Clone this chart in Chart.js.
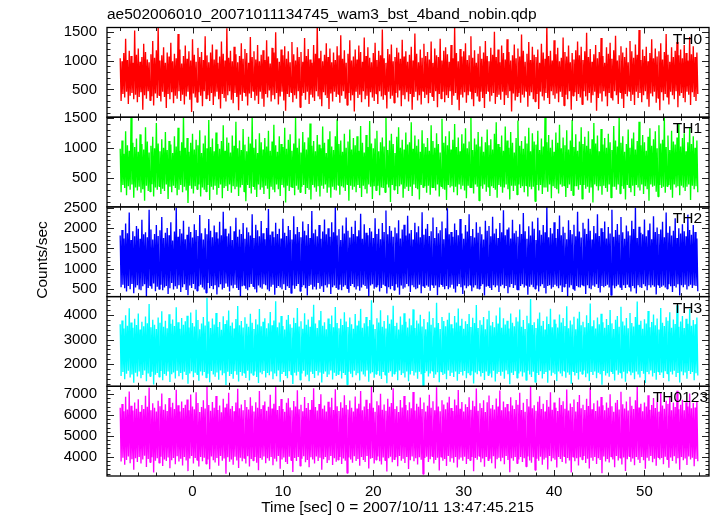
<!DOCTYPE html>
<html><head><meta charset="utf-8">
<script src="https://cdn.jsdelivr.net/npm/chart.js@4/dist/chart.umd.min.js"></script>
<style>html,body{margin:0;padding:0;background:#fff;}#wrap{position:relative;width:717px;height:516px;}</style>
</head><body><div id="wrap"><canvas id="c" width="717" height="516"></canvas></div>
<script>
const chartTitle = "ae502006010_20071011134745_wam3_bst_4band_nobin.qdp";
const xAxisTitle = "Time [sec] 0 = 2007/10/11 13:47:45.215";
const yAxisTitle = "Counts/sec";
const seriesNames = ["TH0", "TH1", "TH2", "TH3", "TH0123"];
const startTime = -8.0;
const binSize = 0.1;

const th0 = [
1040,300,990,420,1130,360,1380,460,1010,250,1170,390,1080,440,960,330,1520,410,1100,280,
1210,370,980,450,1060,150,1290,400,1150,340,1020,470,970,310,1110,380,1340,220,1050,430,
1180,350,1600,400,1000,290,1090,460,1230,370,960,180,1140,420,1070,330,1310,450,990,260,
1120,390,1040,340,1460,470,1190,300,950,410,1080,240,1260,380,1030,460,1160,320,1000,110,
1370,430,1100,360,980,280,1220,450,1060,390,1150,210,1010,470,1420,340,1090,400,970,300,
1140,440,1280,230,1020,380,1190,460,960,330,1070,170,1330,420,1120,350,1000,290,1560,400,
1050,470,1170,320,990,260,1240,440,1110,370,970,140,1080,410,1300,300,1030,450,1200,380,
1130,220,960,430,1410,350,1060,470,1160,310,1020,390,1270,250,990,460,1100,340,1180,200,
1010,420,1350,360,1070,480,950,290,1220,400,1140,330,1490,440,1040,240,980,380,1190,460,
1090,310,1250,130,1030,420,1160,370,970,450,1320,280,1110,400,1000,340,1230,470,1060,190,
1150,390,980,440,1390,320,1080,460,1200,250,1020,410,960,360,1270,300,1120,470,1630,380,
1040,330,1170,210,990,450,1100,400,1300,350,1060,160,1210,430,970,290,1140,460,1010,370,
1250,420,1090,270,1440,390,1030,470,1180,340,960,230,1120,440,1350,310,1000,400,1070,120,
1190,460,1020,350,1260,410,1150,280,980,470,1400,330,1080,390,1230,200,1050,450,970,360,
1130,300,1310,430,1010,250,1170,470,1090,380,1540,320,1040,410,960,170,1200,460,1110,340,
1280,390,990,270,1060,440,1220,360,1140,480,1030,210,1360,400,1070,330,1160,450,980,290,
1100,420,1240,150,1000,370,1470,460,1120,310,970,400,1190,240,1050,470,1290,350,1080,410,
1150,260,1020,440,1330,380,960,300,1210,470,1090,190,1060,420,1380,340,1000,460,1170,280,
1230,400,1110,350,980,470,1270,230,1040,390,1580,440,1130,320,990,140,1200,410,1070,360,
1160,450,1300,270,1010,400,1090,470,1420,330,1050,210,1180,440,960,380,1120,300,1250,460,
1030,350,1140,180,1340,420,1080,470,990,290,1220,390,1100,440,1500,250,1060,370,1190,410,
970,320,1260,460,1130,230,1020,400,1370,350,1150,470,1000,120,1090,430,1280,310,1040,380,
1210,440,1070,270,1450,410,1170,360,980,470,1120,200,1320,390,1010,450,1240,330,1100,290,
1060,420,1190,160,960,460,1290,380,1140,310,1030,440,1610,350,1080,250,1170,470,1000,400,
1350,340,1110,430,1220,280,990,460,1050,370,1400,220,1150,410,1070,330,1260,470,970,150,
1130,390,1020,450,1180,300,1330,420,1090,360,1240,240,1010,470,1160,380,1480,310,1060,440,
1200,270,980,400,1110,460,1270,130,1040,350,1150,430,1390,290,1080,470,960,380,1230,210,
1120,440,1310,360,1030,310,1180,470,1430,400,1000,250,1090,450,1250,340,1140,180,1060,420,
1220,380,970,470,1340,300,1160,410,1050,230,1280,460,1100,350,1530,440,1010,280,1190,400,
1080,470,1240,330,990,200,1130,430,1370,380,1040,460,1210,270,1070,350,1160,140,1300,450,
1020,310,1150,420,1460,370,1100,240,980,460,1230,400,1060,330,1170,470,1320,190,1090,390,
1190,440,1040,350,1270,280,1130,460,1000,410,1410,230,1110,450,1250,370,1060,300,1140,420
];
const th1 = [
980,260,1120,380,900,330,1270,210,1040,360,950,300,1500,390,1080,170,1010,340,1150,290,
930,350,1220,250,1060,310,970,120,1340,370,1100,280,920,270,1030,395,1180,190,990,340,
1410,300,1070,360,940,230,1140,320,1000,280,1260,390,960,150,1110,350,1050,260,910,370,
1190,330,1020,210,1330,300,950,380,1090,260,1540,350,1000,290,1160,80,930,370,1080,320,
1230,240,970,360,1130,310,1040,390,1290,190,910,340,1070,300,1200,270,990,380,1460,130,
1010,350,1150,300,940,370,1250,220,1060,330,980,390,1110,160,1370,330,950,360,1170,280,
1080,390,920,250,1200,360,1030,310,1430,350,990,200,1120,340,960,380,1310,270,1050,110,
940,380,1180,330,1070,240,1520,360,1000,300,1140,180,910,390,1240,300,1090,340,970,230,
1160,370,1020,320,1280,150,950,350,1100,300,1380,260,1040,390,930,310,1190,200,1060,380,
1010,340,1330,90,980,370,1130,280,1220,350,950,330,1070,210,1490,370,1000,300,1150,260,
920,350,1260,380,1090,230,970,330,1170,300,1400,140,1030,380,1110,340,940,270,1210,360,
1050,190,990,370,1350,320,1080,390,910,250,1140,340,1270,170,1020,350,960,300,1190,290,
1470,380,1060,220,1120,360,930,340,1230,280,1000,390,1100,120,1300,370,970,300,1160,350,
1040,260,1190,380,950,330,1360,180,1080,370,920,310,1210,240,1010,390,1440,350,1070,150,
990,360,1150,290,1280,370,940,210,1090,340,1170,330,1020,260,1530,390,960,340,1120,100,
1230,380,1060,300,910,360,1180,230,1340,360,1000,390,1130,170,970,320,1250,350,1050,280,
1090,350,1420,200,980,390,1200,330,1030,310,1140,140,930,380,1290,340,1070,360,1010,250,
1160,370,950,220,1370,340,1110,330,1000,290,1240,390,1060,190,920,360,1480,320,1080,300,
1190,130,1040,380,1270,340,970,360,1130,260,1390,350,1010,210,1170,390,940,310,1220,370,
1070,290,1320,160,990,370,1100,340,1510,330,960,240,1150,390,1050,350,1260,120,1020,360,
1180,320,930,390,1090,270,1300,350,1040,200,1140,360,970,330,1230,300,1420,170,1060,380,
1010,350,1200,250,950,340,1350,390,1120,310,1000,140,1260,370,1080,280,920,370,1160,220,
1450,390,1030,330,1110,360,980,260,1190,370,1070,190,1330,350,940,310,1240,350,1100,110,
1050,380,1280,290,960,380,1150,230,1020,340,1550,340,1090,270,1210,390,1000,160,1130,360,
930,330,1250,310,1080,240,1380,390,990,350,1170,370,1040,180,1290,330,970,390,1120,280,
1460,210,1010,360,1220,360,950,300,1100,380,1340,150,1060,380,1180,320,1030,350,1270,250,
980,340,1140,90,1410,390,1070,360,1200,290,940,360,1310,220,1050,370,1160,330,1000,270,
1230,390,1090,170,960,350,1360,350,1120,300,1020,390,1490,240,1080,360,1190,320,930,140,
1060,380,1300,340,1000,260,1150,370,1250,200,970,380,1110,340,1430,290,1040,390,1210,230,
1090,360,950,310,1180,120,1320,390,1030,350,1140,370,1270,270,990,190,1370,380,1070,330,
1130,350,1500,250,1010,360,1200,380,960,300,1280,170,1100,390,1050,340,1170,360,1400,210,
1020,370,1160,340,1240,280,940,350,1090,390,1330,130,1060,370,1190,310,1000,360,1120,260
];
const th2 = [
1820,540,1960,600,1750,510,2120,430,1880,570,2390,490,1710,620,1930,390,1800,530,2060,590,
1990,480,1740,460,2210,560,1850,610,1900,320,1780,520,2460,580,1970,500,1720,630,1860,440,
2080,550,1810,490,1950,600,2280,460,1760,530,1890,570,2010,370,1830,510,2150,640,1700,480,
1920,560,2520,500,1790,590,1980,420,1870,540,2190,610,1730,470,1840,340,2040,580,1910,520,
1770,620,2100,490,1960,450,1810,560,2330,600,1880,530,1720,480,2000,400,1850,640,2230,510,
1940,570,1780,490,2070,590,1900,360,1750,540,2160,610,1830,480,2410,520,1990,630,1800,550,
1870,430,2050,580,1710,510,1930,600,2260,520,1790,470,1970,310,1860,560,2130,590,1740,500,
2020,460,1900,540,1820,620,2350,560,1760,490,2090,410,1950,580,1800,530,2180,500,1880,610,
1730,590,2010,480,2480,440,1840,550,1920,600,1780,350,2140,520,1860,570,1990,530,1750,490,
2240,610,1890,470,1810,560,2060,520,1960,390,1720,580,2300,500,1850,570,2030,620,1910,440,
1780,540,2170,590,1940,510,1830,330,2110,570,1760,600,2430,480,1880,550,1970,480,1800,640,
2080,500,1740,560,1920,420,2220,590,1850,530,2000,610,1790,370,2150,540,1900,580,2540,520,
1820,490,1980,600,1710,460,2070,550,1870,590,2270,510,1940,400,1770,570,2040,620,1860,540,
2190,480,1800,560,1950,450,2360,530,1740,600,2100,570,1890,500,1830,320,2010,580,1920,610,
1760,500,2250,550,1860,590,1990,430,1730,520,2130,600,1910,580,2440,380,1850,540,2060,490,
1940,570,1790,470,2020,610,1880,530,2200,350,1750,580,1970,500,2090,530,1820,620,2310,560,
1870,420,1960,590,1720,540,2140,490,1900,510,2050,600,1780,390,2400,570,1840,520,1990,580,
2110,550,1810,450,1930,600,2270,520,1760,580,2030,340,1880,540,1950,610,2170,550,1730,490,
2000,570,2500,490,1850,530,1910,600,1790,500,2120,410,1960,560,1830,620,2230,540,1870,370,
1740,580,2080,510,1920,560,2350,600,1810,440,1980,530,1770,590,2150,500,1890,500,2040,570,
1850,610,1720,330,2190,550,1940,580,2060,520,1800,470,2290,590,1870,540,1990,580,1760,420,
2130,560,1900,600,2450,510,1830,570,1970,390,2020,540,1750,620,2210,520,1880,590,1940,480,
1790,460,2100,570,1860,610,2380,530,1930,590,1740,350,2050,550,1820,600,2170,540,1990,500,
1710,580,2260,430,1950,560,1840,610,2080,520,1900,380,2530,570,1780,590,2010,500,1870,540,
2150,600,1760,560,1980,510,2320,580,1830,420,2040,550,1890,620,1730,310,2200,530,1960,590,
1850,500,2090,450,1800,570,2410,540,1920,530,1770,600,2140,560,1990,370,1860,590,2240,510,
1940,490,1720,580,2060,550,1880,610,2350,520,1810,410,2000,570,1910,540,2170,570,1750,600,
2030,530,1870,340,2460,580,1790,510,1960,560,2110,600,1840,540,2280,470,1900,590,1740,520,
2070,600,1930,550,1820,430,2190,570,1980,510,2510,380,1760,590,2040,540,1890,520,1850,610,
2220,560,1800,460,1950,590,2120,530,1730,590,2300,550,1910,360,2020,600,1860,520,1970,550,
2160,580,1780,530,2390,500,1890,610,2050,560,1820,420,1940,570,2250,530,1760,610,2000,330,
1870,590,2100,540,1930,600,1800,480,2340,560,1960,600,1840,520,2080,580,1910,570,1750,440
];
const th3 = [
3620,1520,3780,1680,3450,1390,3990,1610,3560,1730,4280,1460,3700,1580,3480,1240,3850,1650,3590,1500,
4060,1700,3410,1430,3730,1560,3540,1740,3940,1300,3660,1620,4450,1510,3500,1690,3810,1170,3600,1570,
3430,1640,3900,1480,3690,1720,4150,1350,3520,1600,3770,1530,3460,1700,4030,1270,3640,1590,3820,1660,
3550,1420,4320,1730,3710,1510,3440,1640,3880,1380,3600,1690,3750,1560,3970,1200,3490,1620,4100,1710,
3680,1470,3530,1650,4210,1590,3800,1330,3420,1700,3650,1540,3920,1680,3570,1450,4700,1610,3740,1260,
3470,1720,3860,1580,3610,1490,4080,1660,3510,1370,3720,1740,3400,1550,3950,1630,3630,1150,3790,1690,
4180,1520,3560,1600,3700,1410,3450,1710,3840,1570,4370,1290,3580,1680,3760,1530,3490,1650,3910,1440,
3640,1730,3520,1340,4050,1620,3690,1560,3430,1700,3830,1480,3610,1230,4240,1660,3540,1590,3730,1720,
3870,1460,3460,1640,3660,1550,4120,1700,3580,1390,3780,1620,4560,1510,3500,1740,3700,1280,3960,1600,
3550,1680,3410,1520,3810,1430,4000,1710,3620,1580,3480,1190,3890,1650,3670,1540,4290,1690,3530,1360,
3750,1620,3440,1730,4070,1500,3600,1570,3820,1310,3520,1690,3930,1600,4420,1440,3650,1720,3470,1540,
3790,1660,4160,1250,3560,1610,3710,1700,3420,1480,3860,1580,3630,1740,3980,1380,3500,1650,4330,1520,
3680,1590,3460,1710,3850,1420,3590,1640,4110,1560,3740,1170,3510,1690,3900,1610,3620,1470,3440,1730,
4040,1550,3570,1630,3770,1340,4250,1700,3480,1580,3660,1500,3920,1740,3540,1280,3800,1620,4600,1670,
3610,1450,3430,1600,3870,1720,3700,1530,4190,1400,3520,1680,3760,1570,3450,1220,3990,1650,3640,1710,
3820,1490,4380,1610,3550,1690,3690,1350,3410,1740,3940,1560,3600,1630,4070,1460,3730,1700,3490,1300,
3860,1580,3580,1720,4230,1540,3470,1660,3780,1410,3650,1690,4010,1590,3530,1130,3840,1640,3420,1710,
3710,1500,4140,1620,3600,1730,3880,1440,3490,1580,4500,1670,3670,1260,3430,1700,3920,1560,3760,1610,
3540,1390,3810,1740,4090,1520,3620,1650,3460,1480,3960,1700,3700,1330,4270,1600,3560,1680,3850,1540,
3440,1720,3750,1430,3630,1630,4040,1570,3510,1710,3890,1210,3680,1660,4410,1590,3470,1740,3790,1500,
3600,1640,3920,1360,3420,1700,3830,1550,4170,1620,3570,1460,3720,1730,3500,1290,3980,1610,3650,1680,
4310,1530,3480,1690,3870,1410,3610,1740,3770,1590,3450,1180,4060,1650,3690,1560,3540,1710,3910,1440,
3740,1620,4220,1700,3520,1500,3800,1660,3430,1350,3970,1730,3660,1580,4650,1480,3590,1690,3710,1270,
3470,1640,3850,1560,4100,1710,3560,1420,3760,1600,3410,1680,3940,1240,3630,1740,4260,1530,3500,1650,
3820,1590,3640,1320,3490,1700,4020,1620,3700,1510,3880,1730,3550,1450,4360,1660,3460,1570,3780,1200,
3610,1710,3930,1540,3420,1640,3860,1380,4130,1690,3580,1600,3730,1740,3500,1470,3990,1620,3670,1310,
4470,1680,3540,1560,3790,1700,3450,1430,3900,1650,3620,1590,4050,1160,3710,1720,3480,1540,3840,1630,
3590,1490,4200,1710,3660,1600,3430,1340,3810,1740,3960,1570,3520,1660,4340,1420,3740,1690,3570,1280,
3880,1620,3460,1730,4080,1550,3680,1650,3530,1390,3920,1700,4550,1580,3600,1460,3770,1720,3440,1610,
3830,1230,3650,1680,4160,1590,3500,1740,3720,1500,4020,1640,3580,1370,3860,1700,3410,1560,4290,1660,
3690,1440,3550,1710,3910,1620,3770,1300,4110,1690,3480,1580,3820,1730,3630,1480,4400,1640,3520,1250,
3740,1700,3960,1550,3470,1660,3850,1410,3640,1720,4240,1600,3560,1680,3800,1350,3620,1630,3900,1540
];
const th0123 = [
6350,3780,6520,3960,6180,3620,6870,3850,6260,4020,7120,3700,6440,3890,6210,3380,6600,3930,6300,3760,
6750,3990,6150,3680,6480,3870,6280,4050,6920,3520,6390,3900,7310,3740,6230,3980,6560,3250,6340,3820,
6170,3940,6680,3710,6420,4010,7030,3560,6250,3880,6510,3800,6190,3970,6810,3460,6370,3840,6580,3950,
6290,3650,7200,4030,6460,3780,6160,3910,6640,3590,6330,3990,6490,3830,6740,3320,6220,3920,6980,4040,
6410,3690,6270,3950,7090,3850,6570,3540,6140,4000,6380,3790,6700,3960,6310,3670,7390,3880,6470,3410,
6200,4020,6620,3840,6350,3730,6900,3950,6240,3580,6450,4040,6130,3810,6780,3920,6360,3200,6530,3980,
7060,3770,6300,3870,6430,3630,6180,4010,6590,3830,7250,3470,6320,3960,6500,3790,6230,3940,6720,3690,
6380,4030,6260,3540,6850,3900,6440,3820,6170,3990,6610,3720,6340,3360,7150,3950,6280,3860,6460,4020,
6640,3700,6200,3930,6390,3810,6960,4000,6310,3600,6540,3910,7340,3780,6240,4040,6430,3430,6760,3880,
6290,3970,6150,3760,6580,3660,6800,4010,6360,3840,6220,3280,6670,3950,6410,3800,7180,3990,6270,3570,
6490,3910,6180,4030,6860,3740,6330,3850,6570,3510,6250,3980,6710,3870,7270,3690,6380,4020,6210,3800,
6520,3960,6990,3390,6300,3890,6450,4000,6160,3710,6630,3840,6370,4040,6820,3610,6240,3940,7230,3770,
6420,3860,6190,3990,6610,3660,6340,3920,6940,3820,6480,3230,6260,3970,6690,3880,6350,3720,6170,4030,
6880,3800,6310,3900,6530,3580,7140,3990,6220,3850,6400,3750,6730,4040,6280,3450,6560,3910,7370,3950,
6340,3690,6150,3860,6650,4020,6460,3790,7010,3640,6250,3970,6500,3830,6200,3300,6770,3940,6390,4010,
6570,3740,7280,3880,6290,3980,6420,3550,6140,4040,6720,3820,6360,3910,6910,3710,6480,4000,6230,3420,
6610,3840,6320,4020,7100,3790,6210,3930,6540,3640,6390,3980,6830,3860,6280,3180,6590,3950,6170,4010,
6440,3760,6970,3890,6350,4030,6660,3680,6230,3850,7320,3960,6410,3350,6180,4000,6700,3820,6500,3900,
6270,3570,6590,4040,6870,3770,6330,3940,6190,3720,6740,3990,6460,3490,7190,3870,6300,3970,6620,3810,
6160,4010,6510,3660,6380,3900,6850,3840,6250,4000,6680,3310,6420,3950,7260,3860,6200,4040,6560,3740,
6330,3920,6700,3530,6140,3990,6610,3830,6930,3910,6310,3700,6480,4030,6260,3440,6790,3890,6400,3960,
7170,3790,6220,3960,6640,3650,6370,4040,6520,3850,6180,3270,6840,3930,6450,3810,6290,4000,6710,3690,
6490,3880,7060,3990,6240,3760,6580,3940,6150,3540,6760,4020,6410,3830,7350,3720,6320,3980,6460,3370,
6200,3910,6630,3820,6890,4010,6280,3630,6530,3880,6170,3960,6720,3400,6390,4040,7080,3790,6250,3930,
6600,3860,6350,3490,6190,3990,6820,3900,6470,3750,6650,4030,6300,3680,7210,3950,6210,3830,6550,3260,
6380,4000,6740,3790,6160,3930,6620,3590,6950,3980,6320,3870,6490,4040,6240,3710,6780,3910,6430,3450,
7300,3960,6270,3820,6560,3990,6190,3660,6690,3940,6400,3850,6860,3220,6460,4020,6230,3780,6590,3900,
6340,3730,6990,4010,6420,3880,6150,3500,6580,4040,6710,3830,6260,3950,7110,3640,6510,3970,6310,3330,
6640,3890,6210,4030,6870,3770,6440,3920,6280,3600,6700,3990,7380,3860,6360,3710,6530,4000,6180,3840,
6600,3430,6410,3960,6940,3820,6250,4040,6470,3740,6810,3910,6330,3580,6620,3980,6160,3870,7040,3950,
6450,3650,6300,4010,6680,3880,6530,3480,6910,3970,6230,3800,6590,4030,6380,3690,7160,3930,6270,3380,
6490,3990,6730,3840,6220,3920,6610,3610,6400,4020,7020,3880,6320,3960,6570,3550,6360,3900,6660,3790
];

const xTickLabels = [0, 10, 20, 30, 40, 50];
const xMinorStep = 2;
const xRange = [-9.46, 57.14];
const yTicksTH0 = [500, 1000, 1500];
const yTicksTH1 = [500, 1000, 1500];
const yTicksTH2 = [500, 1000, 1500, 2000, 2500];
const yTicksTH3 = [2000, 3000, 4000];
const yTicksTH0123 = [4000, 5000, 6000, 7000];
const yRangeTH0 = [19, 1573];
const yRangeTH1 = [17, 1505];
const yRangeTH2 = [305, 2532];
const yRangeTH3 = [1099, 4750];
const yRangeTH0123 = [3087, 7369];

const FONT = "'Liberation Sans', Arial, Helvetica, sans-serif";
const panels = [
  {values: th0, ticks: yTicksTH0, range: yRangeTH0, minor: 100, color: '#ff0000'},
  {values: th1, ticks: yTicksTH1, range: yRangeTH1, minor: 100, color: '#00ff00'},
  {values: th2, ticks: yTicksTH2, range: yRangeTH2, minor: 100, color: '#0000ff'},
  {values: th3, ticks: yTicksTH3, range: yRangeTH3, minor: 200, color: '#00ffff'},
  {values: th0123, ticks: yTicksTH0123, range: yRangeTH0123, minor: 200, color: '#ff00ff'}
];

const datasets = panels.map((p, k) => ({
  label: seriesNames[k],
  data: p.values.map((v, i) => ({x: startTime + i * binSize, y: v})),
  yAxisID: 'y' + k,
  borderColor: p.color,
  borderWidth: 1.35,
  borderJoinStyle: 'bevel',
  pointRadius: 0,
  tension: 0,
  fill: false
}));

const plainLabel = v => String(v);

const scales = {
  x: {
    type: 'linear', position: 'bottom', min: xRange[0], max: xRange[1],
    afterBuildTicks: s => { s.ticks = xTickLabels.map(v => ({value: v})); },
    afterFit: s => { s.height = 40; },
    grid: {display: false, drawTicks: false},
    border: {display: false},
    ticks: {color: '#000', font: {family: FONT, size: 15}, padding: 7, maxRotation: 0, autoSkip: false, callback: plainLabel}
  }
};
panels.forEach((p, k) => {
  scales['y' + k] = {
    type: 'linear', position: 'left', stack: 'panels', stackWeight: 1, weight: 5 - k,
    min: p.range[0], max: p.range[1],
    afterBuildTicks: s => { s.ticks = p.ticks.map(v => ({value: v})); },
    afterFit: s => { s.width = 107; },
    grid: {display: false, drawTicks: false},
    border: {display: false},
    ticks: {color: '#000', font: {family: FONT, size: 15}, padding: 10, autoSkip: false, callback: plainLabel}
  };
});

const qdpFrame = {
  id: 'qdpFrame',
  afterDatasetsDraw(chart) {
    const ctx = chart.ctx;
    const xs = chart.scales.x;
    ctx.save();
    panels.forEach((p, k) => {
      const ys = chart.scales['y' + k];
      const L = xs.left, R = xs.right, T = ys.top, B = ys.bottom;
      const majorStep = p.ticks[1] - p.ticks[0];
      ctx.strokeStyle = '#222';
      ctx.lineWidth = 1;
      ctx.beginPath();
      for (let v = Math.ceil(ys.min / p.minor) * p.minor; v <= ys.max; v += p.minor) {
        const y = Math.round(ys.getPixelForValue(v)) + 0.5;
        const len = (v % majorStep === 0) ? 7 : 3.5;
        ctx.moveTo(L, y); ctx.lineTo(L + len, y);
        ctx.moveTo(R, y); ctx.lineTo(R - len, y);
      }
      for (let t = Math.ceil(xs.min / xMinorStep) * xMinorStep; t <= xs.max; t += xMinorStep) {
        const x = Math.round(xs.getPixelForValue(t)) + 0.5;
        const len = (t % 10 === 0) ? 6 : 3.5;
        ctx.moveTo(x, T); ctx.lineTo(x, T + len);
        ctx.moveTo(x, B); ctx.lineTo(x, B - len);
      }
      ctx.stroke();
      ctx.strokeStyle = '#000';
      ctx.lineWidth = 1.3;
      ctx.strokeRect(L, T, R - L, B - T);
    });
    ctx.restore();
  },
  afterDraw(chart) {
    const ctx = chart.ctx;
    ctx.save();
    ctx.fillStyle = '#000';
    ctx.font = '15.5px ' + FONT;
    ctx.textBaseline = 'alphabetic';
    ctx.textAlign = 'left';
    ctx.fillText(chartTitle, 107, 19);
    ctx.textAlign = 'right';
    panels.forEach((p, k) => {
      const ys = chart.scales['y' + k];
      ctx.fillText(seriesNames[k], k === 4 ? 708 : 702, ys.top + 16);
    });
    ctx.textAlign = 'center';
    ctx.fillText(xAxisTitle, 397.5, 512);
    ctx.translate(47, 260);
    ctx.rotate(-Math.PI / 2);
    ctx.fillText(yAxisTitle, 0, 0);
    ctx.restore();
  }
};

new Chart(document.getElementById('c'), {
  type: 'line',
  data: {datasets},
  options: {
    responsive: false,
    animation: false,
    devicePixelRatio: 1,
    layout: {padding: {left: 0, right: 8, top: 27.5, bottom: 0}},
    plugins: {legend: {display: false}, title: {display: false}, tooltip: {enabled: false}},
    scales
  },
  plugins: [qdpFrame]
});
</script>
</body></html>
